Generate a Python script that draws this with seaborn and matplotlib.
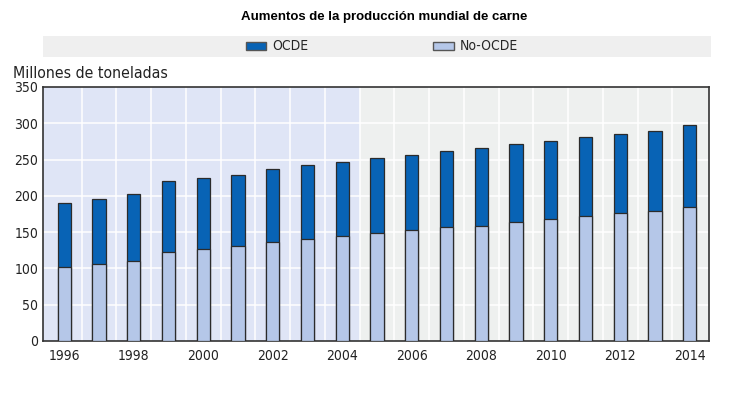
import numpy as np
import pandas as pd
import seaborn as sns
import matplotlib.pyplot as plt
from matplotlib.patches import Rectangle, Patch

sns.set_style('white')
plt.rcParams['font.family'] = ['DejaVu Sans']
plt.rcParams['font.stretch'] = 'condensed'

years = list(range(1996, 2015))
no_ocde = [102, 106, 110, 123, 127, 131, 136, 141, 145, 149, 153, 157, 159, 164, 168, 172, 176, 179, 184]
ocde = [88, 89, 93, 97, 98, 98, 101, 101, 101, 103, 103, 105, 107, 107, 108, 109, 109, 111, 113]
tick_years = ['1996', '1998', '2000', '2002', '2004', '2006', '2008', '2010', '2012', '2014']

col_ocde = '#0863b5'
col_no = '#b5c7e8'
edge = '#2b2b2b'

df = pd.DataFrame({'anio': [str(y) for y in years], 'no_ocde': no_ocde, 'ocde': ocde})
df['total'] = df['no_ocde'] + df['ocde']

fig = plt.figure(figsize=(7.45, 3.96), dpi=100)
ax = fig.add_axes([43.3/745, 55/396, 666/745, 254/396])

# fondo: periodo historico azul claro, proyeccion gris
ax.axvspan(-0.7, 8.5, color='#dfe5f6', zorder=0)
ax.axvspan(8.5, 18.7, color='#eef0ef', zorder=0)

sns.barplot(data=df, x='anio', y='total', color=col_ocde, width=0.38,
            edgecolor=edge, linewidth=0.9, saturation=1, ax=ax, zorder=3)
sns.barplot(data=df, x='anio', y='no_ocde', color=col_no, width=0.38,
            edgecolor=edge, linewidth=0.9, saturation=1, ax=ax, zorder=4)

ax.set_xlim(-0.6, 18.56)
ax.set_ylim(0, 350)
ax.set_yticks(range(0, 351, 50))
ax.set_xticks(range(0, 19, 2))
ax.set_xticklabels(tick_years)
ax.set_xticks(np.arange(0.5, 18, 1), minor=True)
ax.set_xlabel('')
ax.set_ylabel('')

for y in range(50, 350, 50):
    ax.axhline(y, color='white', lw=1.1, zorder=1)
for x in np.arange(0.5, 18, 1):
    ax.axvline(x, color='white', lw=1.1, zorder=1)

ax.tick_params(axis='x', which='major', length=0, labelsize=10, pad=6, colors='#222222')
ax.tick_params(axis='x', which='minor', length=4, direction='in', color='#666666', width=0.8)
ax.tick_params(axis='y', length=4, direction='in', labelsize=10, color='#555555', width=0.8, colors='#222222')
for s in ax.spines.values():
    s.set_color('#333333')
    s.set_linewidth(1.2)
    s.set_visible(True)

fig.text(384.5/745, 1 - 17/396, 'Aumentos de la producción mundial de carne', ha='center', va='center',
         fontsize=9.5, fontweight='bold', family=['Liberation Sans', 'DejaVu Sans'], fontstretch='normal',
         color='black')
fig.text(13/745, 1 - 73/396, 'Millones de toneladas', ha='left', va='center', fontsize=11.3, color='#222222')

# banda de la leyenda
fig.patches.append(Rectangle((43/745, 1 - 57/396), 668/745, 21/396, transform=fig.transFigure,
                             facecolor='#efefef', edgecolor='none', zorder=0))
handles = [Patch(facecolor=col_ocde, edgecolor='#555555', label='OCDE'),
           Patch(facecolor=col_no, edgecolor='#555555', label='No-OCDE')]
fig.legend(handles=handles, loc='center', bbox_to_anchor=(382/745, 1 - 46.5/396), ncol=2, frameon=False,
           fontsize=10, handlelength=1.45, handleheight=0.5, handletextpad=0.45, columnspacing=9.0)

fig.savefig('out.png', dpi=100)
